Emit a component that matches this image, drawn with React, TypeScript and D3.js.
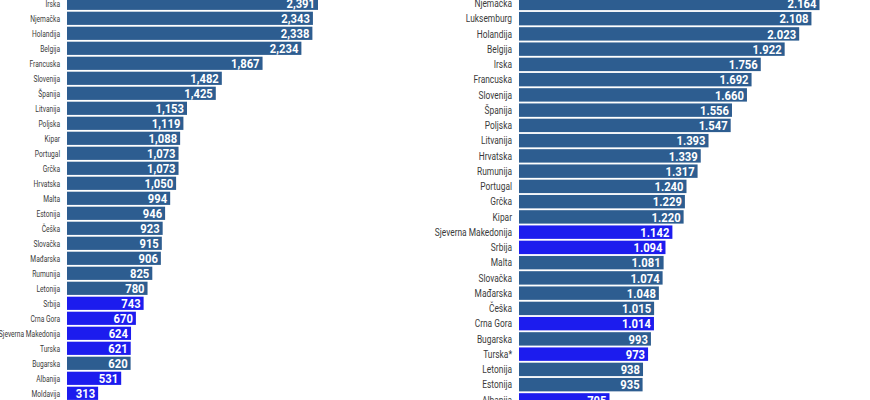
import * as d3 from "d3";

// 2019 (left panel)
const leftNames = [
  "Irska", "Njemačka", "Holandija", "Belgija", "Francuska", "Slovenija", "Španija",
  "Litvanija", "Poljska", "Kipar", "Portugal", "Grčka", "Hrvatska", "Malta", "Estonija",
  "Češka", "Slovačka", "Mađarska", "Rumunija", "Letonija", "Srbija", "Crna Gora",
  "Sjeverna Makedonija", "Turska", "Bugarska", "Albanija", "Moldavija",
];
const leftValues = [
  2391, 2343, 2338, 2234, 1867, 1482, 1425, 1153, 1119, 1088, 1073, 1073, 1050, 994, 946,
  923, 915, 906, 825, 780, 743, 670, 624, 621, 620, 531, 313,
];
const leftHighlight = ["Srbija", "Crna Gora", "Sjeverna Makedonija", "Turska", "Albanija", "Moldavija"];

// right panel
const rightNames = [
  "Njemačka", "Luksemburg", "Holandija", "Belgija", "Irska", "Francuska", "Slovenija",
  "Španija", "Poljska", "Litvanija", "Hrvatska", "Rumunija", "Portugal", "Grčka", "Kipar",
  "Sjeverna Makedonija", "Srbija", "Malta", "Slovačka", "Mađarska", "Češka", "Crna Gora",
  "Bugarska", "Turska*", "Letonija", "Estonija", "Albanija",
];
const rightValues = [
  2164, 2108, 2023, 1922, 1756, 1692, 1660, 1556, 1547, 1393, 1339, 1317, 1240, 1229, 1220,
  1142, 1094, 1081, 1074, 1048, 1015, 1014, 993, 973, 938, 935, 705,
];
const rightHighlight = ["Sjeverna Makedonija", "Srbija", "Crna Gora", "Turska*", "Albanija"];

const DARK = "#2d5d90";
const BRIGHT = "#1c1cee";
const FONT = "Roboto, 'Noto Sans', sans-serif";

const dotFormat = d3.formatLocale({
  decimal: ",",
  thousands: ".",
  grouping: [3],
  currency: ["", ""],
}).format(",");

interface PanelProps {
  names: string[];
  values: number[];
  highlight: string[];
  labelX: number;
  barX: number;
  zeroX: number;
  maxX: number;
  firstY: number;
  step: number;
  labelScale: number;
  labelSize: number;
  fmt: (v: number) => string;
}

function Panel({
  names, values, highlight, labelX, barX, zeroX, maxX, firstY, step, labelScale, labelSize, fmt,
}: PanelProps) {
  const x = d3.scaleLinear().domain([0, d3.max(values) ?? 0]).range([zeroX, maxX]);
  const top = firstY - step / 2;
  const y = d3
    .scaleBand()
    .domain(names)
    .range([top, top + names.length * step])
    .paddingInner(0.12)
    .paddingOuter(0.06);
  const bw = y.bandwidth();

  return (
    <g>
      {names.map((name, i) => {
        const v = values[i];
        const y0 = y(name) ?? 0;
        const cy = y0 + bw / 2;
        const end = x(v);
        return (
          <g key={name}>
            <rect
              x={barX}
              y={y0}
              width={end - barX}
              height={bw}
              fill={highlight.includes(name) ? BRIGHT : DARK}
            />
            <g transform={`translate(${labelX},${cy}) scale(${labelScale},1)`}>
              <text textAnchor="end" dominantBaseline="central" fontSize={labelSize} fill="#3a3a3a">
                {name}
              </text>
            </g>
            <g transform={`translate(${end - 3},${cy + 0.5}) scale(0.9,1)`}>
              <text
                textAnchor="end"
                dominantBaseline="central"
                fontSize={12.5}
                fontWeight="bold"
                fill="#ffffff"
              >
                {fmt(v)}
              </text>
            </g>
          </g>
        );
      })}
    </g>
  );
}

export default function App() {
  return (
    <div style={{ position: "absolute", left: 0, top: 0, width: 870, height: 400, background: "#fff" }}>
      <svg width={870} height={400} style={{ display: "block", fontFamily: FONT }}>
        <rect width={870} height={400} fill="#ffffff" />
        <Panel
          names={leftNames}
          values={leftValues}
          highlight={leftHighlight}
          labelX={60}
          barX={67}
          zeroX={65}
          maxX={318}
          firstY={3.3}
          step={15}
          labelScale={0.7}
          labelSize={9.5}
          fmt={d3.format(",")}
        />
        <Panel
          names={rightNames}
          values={rightValues}
          highlight={rightHighlight}
          labelX={512}
          barX={519}
          zeroX={508}
          maxX={819.5}
          firstY={3.4}
          step={15.25}
          labelScale={0.84}
          labelSize={10}
          fmt={dotFormat}
        />
      </svg>
    </div>
  );
}
